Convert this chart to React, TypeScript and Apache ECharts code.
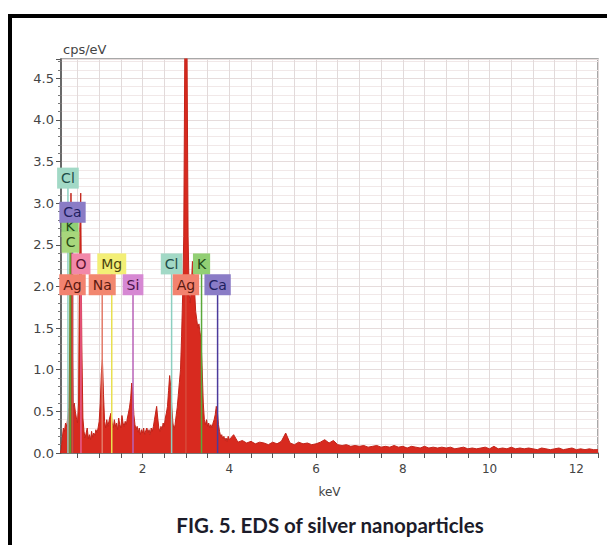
import React, { useEffect, useRef } from "react";
import * as echarts from "echarts";

// Spectrum, segment A: channels of 0.025 keV from 0.10 keV to 4.00 keV
const segAStart = 0.1;
const segAStep = 0.025;
const segACounts = [
  0, 0.04, 0.18, 0.3, 0.26, 0.36, 0.32, 0.42, 0.55, 1.4,
  3.12, 1.6, 0.55, 0.6, 0.5, 0.42, 0.36, 0.6, 2.6, 3.12,
  1.3, 0.42, 0.26, 0.18, 0.24, 0.3, 0.17, 0.22, 0.16, 0.26,
  0.19, 0.24, 0.21, 0.28, 0.24, 0.3, 0.38, 0.6, 0.95, 1.12,
  0.7, 0.38, 0.3, 0.4, 0.32, 0.38, 0.44, 0.48, 0.36, 0.3,
  0.4, 0.32, 0.36, 0.28, 0.42, 0.34, 0.3, 0.45, 0.36, 0.32,
  0.38, 0.34, 0.42, 0.48, 0.55, 0.65, 0.84, 0.72, 0.46, 0.34,
  0.28, 0.32, 0.25, 0.3, 0.22, 0.28, 0.24, 0.3, 0.22, 0.27,
  0.3, 0.24, 0.28, 0.22, 0.3, 0.26, 0.32, 0.4, 0.48, 0.56,
  0.42, 0.3, 0.26, 0.32, 0.28, 0.36, 0.32, 0.42, 0.48, 0.56,
  0.75, 0.93, 0.8, 0.55, 0.36, 0.28, 0.34, 0.45, 0.55, 0.7,
  0.85, 1.0, 1.4, 1.9, 2.6, 4.9, 5.0, 4.9, 2.6, 1.9,
  1.8, 2.0, 2.3, 2.2, 1.95, 1.7, 1.6, 1.5, 1.55, 1.45,
  1.35, 1.0, 0.6, 0.4, 0.34, 0.4, 0.32, 0.36, 0.3, 0.34,
  0.3, 0.36, 0.4, 0.46, 0.56, 0.5, 0.34, 0.26, 0.2, 0.22,
  0.17, 0.2, 0.15, 0.18, 0.14, 0.2, 0.16,
];

// Spectrum, segment B: channels of 0.1 keV from 4.1 keV to 12.5 keV
const segBStart = 4.1;
const segBStep = 0.1;
const segBCounts = [
  0.22, 0.13, 0.15, 0.12, 0.14, 0.11, 0.13, 0.12, 0.1, 0.13,
  0.11, 0.14, 0.24, 0.12, 0.1, 0.13, 0.11, 0.12, 0.1, 0.11,
  0.13, 0.16, 0.12, 0.15, 0.1, 0.09, 0.1, 0.08, 0.09, 0.08,
  0.09, 0.07, 0.08, 0.09, 0.07, 0.08, 0.07, 0.09, 0.07, 0.08,
  0.06, 0.08, 0.07, 0.06, 0.08, 0.06, 0.07, 0.06, 0.07, 0.06,
  0.07, 0.05, 0.06, 0.07, 0.05, 0.06, 0.05, 0.06, 0.07, 0.05,
  0.08, 0.05, 0.06, 0.05, 0.07, 0.05, 0.06, 0.05, 0.06, 0.05,
  0.04, 0.06, 0.05, 0.04, 0.05, 0.06, 0.04, 0.05, 0.06, 0.04,
  0.05, 0.04, 0.05, 0.04, 0.04,
];

// Element markers
const elementLabels = ["Cl", "K", "Ca", "C", "O", "Ag", "Mg", "Na", "Si", "Cl", "K", "Ag", "Ca"];
const elementEnergies = [0.28, 0.33, 0.385, 0.34, 0.58, 0.385, 1.29, 1.07, 1.78, 2.67, 3.36, 3.0, 3.73];
const elementLevels = [3.3, 2.72, 2.89, 2.53, 2.27, 2.02, 2.27, 2.02, 2.02, 2.27, 2.27, 2.02, 2.02];

// Axis ticks
const xTickValues = [0.5, 1, 1.5, 2, 2.5, 3, 3.5, 4, 4.5, 5, 5.5, 6, 6.5, 7, 7.5, 8, 8.5, 9, 9.5, 10, 10.5, 11, 11.5, 12, 12.5];
const xLabelValues = [2, 4, 6, 8, 10, 12];

const elementColors: Record<string, { box: string; text: string; line: string }> = {
  Cl: { box: "#a2d9c6", text: "#1e4c48", line: "#8ccfc0" },
  Ca: { box: "#8a7cc6", text: "#1e2060", line: "#4b3a9c" },
  K: { box: "#92cf74", text: "#1f4a18", line: "#5aa83a" },
  C: { box: "#a8d77c", text: "#2a4a12", line: "#5f9f2a" },
  O: { box: "#f288a9", text: "#5a1230", line: "#e85d90" },
  Ag: { box: "#f2826f", text: "#5a1810", line: "#d84a3a" },
  Mg: { box: "#f3ef76", text: "#4a4410", line: "#e8e050" },
  Na: { box: "#f2876f", text: "#5a1a10", line: "#e27a68" },
  Si: { box: "#d688d3", text: "#4a124a", line: "#b862b8" },
};

export default function App() {
  const ref = useRef<HTMLDivElement>(null);
  useEffect(() => {
    if (!ref.current) return;
    const chart = echarts.init(ref.current, undefined, { renderer: "svg" });

    const spectrum: number[][] = [];
    segACounts.forEach((v, i) => spectrum.push([+(segAStart + i * segAStep).toFixed(3), v]));
    segBCounts.forEach((v, i) => spectrum.push([+(segBStart + i * segBStep).toFixed(3), v]));

    const markerData = elementLabels.map((_, i) => [elementEnergies[i], elementLevels[i], i]);
    const font = '"DejaVu Sans", Verdana, sans-serif';

    chart.setOption({
      animation: false,
      backgroundColor: "#ffffff",
      grid: {
        left: 61,
        top: 59,
        right: 9,
        bottom: 92,
        show: true,
        borderColor: "#8c8c8c",
        borderWidth: 1.5,
        containLabel: false,
      },
      xAxis: {
        type: "value",
        min: 0.12,
        max: 12.5,
        name: "keV",
        nameLocation: "middle",
        nameGap: 33,
        nameTextStyle: { fontSize: 12, color: "#444", fontFamily: font },
        axisLine: { show: true, onZero: false, lineStyle: { color: "#555", width: 1.5 } },
        axisTick: { show: true, length: 5, customValues: xTickValues, lineStyle: { color: "#555" } },
        axisLabel: { customValues: xLabelValues, margin: 10, fontSize: 12, color: "#444", fontFamily: font },
        splitLine: { show: true, lineStyle: { color: "#e2dada", width: 1 } },
      },
      yAxis: {
        type: "value",
        min: 0,
        max: 4.73,
        interval: 0.5,
        name: "cps/eV",
        nameLocation: "end",
        nameGap: 3,
        nameTextStyle: { fontSize: 13, color: "#444", fontFamily: font, align: "left", padding: [0, 0, 0, 2] },
        axisLine: { show: true, lineStyle: { color: "#555", width: 1.5 } },
        axisTick: { show: true, length: 5, lineStyle: { color: "#555" } },
        minorTick: { show: true, splitNumber: 5, length: 3, lineStyle: { color: "#777" } },
        minorSplitLine: { show: true, lineStyle: { color: "#f1e8e8" } },
        splitLine: { show: true, lineStyle: { color: "#e6dcdc" } },
        axisLabel: {
          showMaxLabel: false,
          margin: 7,
          fontSize: 13,
          color: "#444",
          fontFamily: font,
          formatter: (v: number) => v.toFixed(1),
        },
      },
      graphic: [
        {
          type: "rect",
          shape: { x: 10, y: 16, width: 640, height: 600 },
          style: { fill: "none", stroke: "#000", lineWidth: 4 },
          silent: true,
          z: 100,
        },
        {
          type: "text",
          x: 330,
          y: 525,
          style: {
            text: "FIG. 5. EDS of silver nanoparticles",
            font: "bold 20.5px Lato, sans-serif",
            fill: "#1c1c2a",
            align: "center",
            verticalAlign: "middle",
          },
        },
      ],
      series: [
        {
          type: "line",
          data: spectrum,
          showSymbol: false,
          clip: true,
          lineStyle: { color: "#c2241a", width: 1 },
          areaStyle: { color: "#d82a1f", opacity: 1 },
          z: 2,
        },
        {
          type: "custom",
          clip: false,
          z: 3,
          data: markerData,
          renderItem: (params: any, api: any) => {
            const idx = api.value(2);
            const c = elementColors[elementLabels[idx]];
            const p0 = api.coord([api.value(0), 0]);
            const p1 = api.coord([api.value(0), api.value(1)]);
            return {
              type: "line",
              shape: { x1: p0[0], y1: p0[1], x2: p1[0], y2: p1[1] },
              style: { stroke: c.line, lineWidth: 1.5 },
            };
          },
        },
        {
          type: "custom",
          clip: false,
          z: 4,
          data: markerData,
          renderItem: (params: any, api: any) => {
            const idx = api.value(2);
            const c = elementColors[elementLabels[idx]];
            const p1 = api.coord([api.value(0), api.value(1)]);
            return {
              type: "text",
              x: p1[0],
              y: p1[1],
              style: {
                text: elementLabels[idx],
                font: '14px "DejaVu Sans", Verdana, sans-serif',
                fill: c.text,
                align: "center",
                verticalAlign: "middle",
                backgroundColor: c.box,
                padding: [4, 4, 3, 4],
              },
            };
          },
        },
      ],
    });
    return () => chart.dispose();
  }, []);
  return (
    <div
      ref={ref}
      style={{ position: "fixed", left: 0, top: 0, width: 607, height: 545, background: "#fff" }}
    />
  );
}
